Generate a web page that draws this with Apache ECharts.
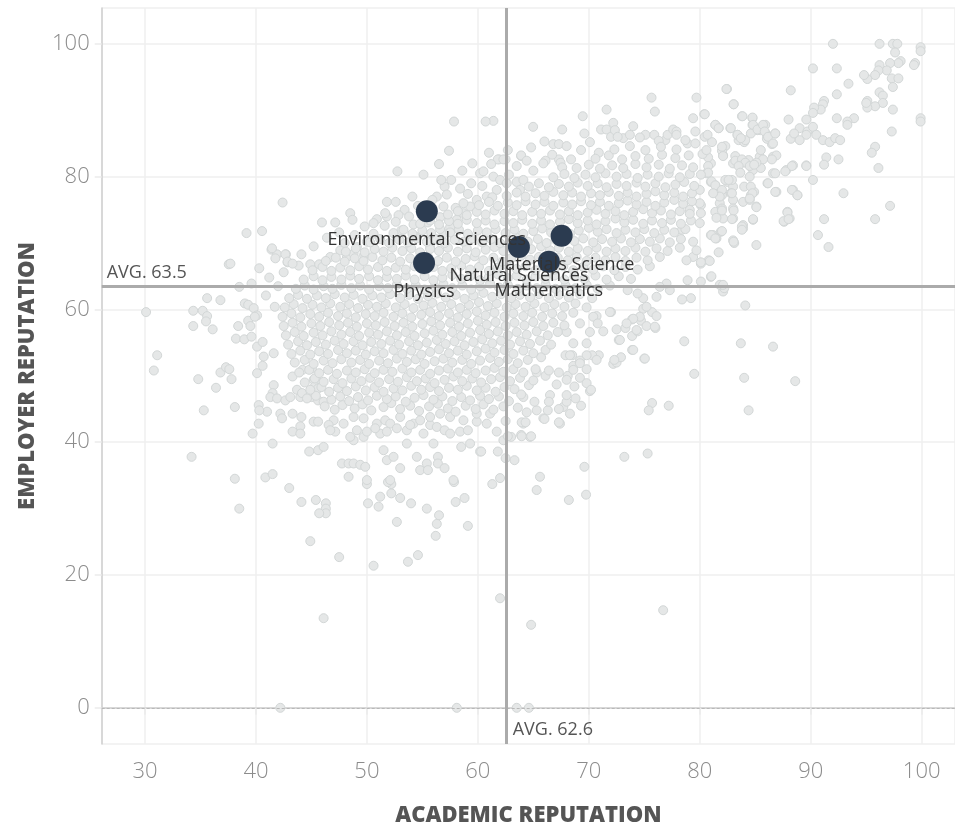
<!DOCTYPE html>
<html><head><meta charset="utf-8">
<script src="https://cdn.jsdelivr.net/npm/echarts@6/dist/echarts.min.js"></script>
<style>html,body{margin:0;padding:0;background:#fff}#c{width:955px;height:827px}</style>
</head><body><div id="c"></div>
<script>
// Highlighted subjects
const subjects = ['Environmental Sciences','Physics','Natural Sciences','Materials Science','Mathematics'];
const subjectAcademic = [55.4, 55.15, 63.7, 67.55, 66.4];
const subjectEmployer = [74.8, 67.0, 69.4, 71.1, 67.2];
const avgAcademic = 62.6;
const avgEmployer = 63.5;
const xAxisTitle = 'ACADEMIC REPUTATION';
const yAxisTitle = 'EMPLOYER REPUTATION';

// Background institutions/subjects: [academic, employer]
const zeroRow = [[42.2,0],[58.1,0],[63.5,0],[64.6,0]];

const fringeLeft = [[37.55,66.8],[38.5,63.4],[30.1,59.6],[34.35,59.8],[35.2,59.8],[35.6,59.0],[35.5,58.2],[34.35,57.5],[36.1,57.0],[35.6,61.7],[36.8,61.4],[31.1,53.1],[30.8,50.8],[34.8,49.5],[36.4,48.2],[36.8,50.5],[37.3,51.3],[37.6,51.0],[37.8,49.5],[35.3,44.8],[38.1,45.3],[39.0,60.9],[39.3,60.7],[39.8,60.2],[40.1,59.1],[39.3,58.3],[39.9,58.9],[38.4,57.5],[39.5,57.5],[38.2,55.6],[38.95,55.5],[39.6,55.9],[40.1,54.4],[40.6,55.1],[40.7,52.9],[41.6,53.4],[40.1,50.4],[40.6,51.5],[41.6,48.6],[41.5,47.4],[41.3,46.8],[41.9,46.6],[42.65,46.3],[43.1,46.8],[44.0,46.8],[43.7,47.9],[44.15,47.4],[40.25,45.6],[41.0,44.6],[40.3,44.8],[40.25,42.8],[39.7,41.3],[42.2,44.3],[42.35,43.6],[43.3,44.3],[44.1,43.8],[44.0,42.4],[43.3,41.6],[44.0,41.3],[41.5,39.8],[44.8,38.6],[45.6,38.8],[46.1,39.3],[45.2,43.1],[45.6,43.1],[45.0,46.8],[45.6,46.3],[46.1,46.1],[45.2,49.4],[45.6,49.1],[45.3,48.4],[45.6,48.1],[44.2,50.9],[45.05,51.1],[43.3,49.9],[39.15,71.5],[40.55,71.8],[37.7,66.9],[41.4,69.0],[41.9,68.3],[42.7,68.3],[41.75,67.7],[42.85,67.1],[43.85,66.6],[44.9,66.8],[45.7,66.8],[42.4,76.1],[40.9,62.1],[41.7,60.4],[42.0,63.5],[41.2,64.8],[39.6,63.9],[40.3,66.2],[42.5,65.6]];

const fringeLower = [[38.5,30.0],[43.0,33.1],[44.1,31.0],[45.4,31.3],[46.3,30.8],[46.3,30.0],[46.3,29.3],[45.7,29.3],[44.9,25.1],[47.5,22.7],[46.1,13.5],[50.1,30.8],[50.0,33.7],[51.2,31.8],[51.05,30.3],[52.2,32.3],[52.2,33.7],[51.9,34.0],[53.0,31.6],[53.98,30.8],[52.7,28.0],[55.4,30.0],[56.5,29.0],[56.3,27.7],[56.2,25.9],[54.6,23.0],[53.7,22.0],[50.6,21.4],[57.85,34.0],[58.0,31.0],[58.8,31.6],[59.1,27.4],[61.3,33.7],[62.0,16.5],
[38.1,34.5],[40.85,34.7],[41.5,35.2],[34.2,37.8],[47.75,36.8],[48.35,36.8],[48.8,36.8],[49.4,36.6],[49.85,36.3],[50.0,34.3],[48.35,34.8],[51.5,38.8],[51.8,37.3],[52.4,37.8],[53.0,36.1],[52.1,34.3],[54.5,37.8],[54.8,35.8],[55.4,36.8],[55.5,35.8],[56.4,37.8],[56.4,36.8],[57.0,36.1],[57.8,34.3],[58.5,39.3],[59.3,39.8],[60.2,38.6],[62.0,34.6],[61.8,38.6],[62.5,37.6],[63.3,37.3],[48.8,40.3],[49.7,40.8],[65.3,32.8],[65.6,34.8],[53.6,39.8],[56.0,39.8],[64.8,12.5],[76.7,14.7],[68.2,31.3],[69.75,32.1],[69.6,36.3],[73.2,37.8],[75.3,38.3]];

const band40 = [[47.0,43.3],[47.9,42.8],[48.8,43.8],[49.1,41.8],[50.0,41.6],[48.5,40.8],[47.15,41.6],[49.7,43.6],[50.9,42.8],[51.65,43.3],[52.1,42.8],[52.7,42.1],[53.6,41.8],[54.2,42.8],[54.8,43.3],[55.7,42.6],[56.3,42.3],[57.0,41.8],[57.5,41.3],[58.4,41.6],[59.1,41.8],[59.9,43.1],[60.8,42.8],[61.1,44.3],[59.9,44.3],[58.7,43.3],[57.5,43.8],[56.6,44.3],[55.7,43.8],[53.0,43.8],[51.2,41.3],[55.1,41.3],[61.7,41.6],[62.3,40.3],[63.0,40.8],[63.9,41.1],[64.7,40.8],[64.1,42.8],[65.9,43.6],[67.4,42.8],[66.3,44.8],[65.3,44.8],[67.7,45.3],[68.3,44.3],[46.55,42.6],[46.7,41.8],[50.75,42.1],[51.8,41.6],[53.9,42.6],[60.3,38.6]];

const fringeRight = [[84.1,60.6],[83.7,54.9],[86.6,54.4],[84.0,49.7],[84.4,44.8],[88.6,49.2],[79.5,50.3],[78.6,55.2],[75.7,45.9],[75.4,44.8],[77.2,45.5],[62.7,40.9],[63.95,40.9],[64.8,40.9],[62.5,43.2],[63.95,43.0],[64.3,43.0],[66.0,43.5],[67.3,43.0],[67.3,45.0],[69.3,45.5],[68.8,46.6],[68.0,46.1],[68.0,47.1],[66.5,47.1],[66.4,46.1],[65.1,46.1],[64.1,46.8],[70.1,47.7],[68.7,48.4],[67.1,48.7],[69.2,49.7],[68.1,50.0],[66.1,50.0],[65.3,50.5],[66.4,50.8],[67.3,50.5],[69.8,51.0],[68.6,51.5],[72.2,51.8],[72.5,52.0],[72.9,52.8],[75.0,52.6],[73.9,53.9],[70.9,53.1],[70.3,53.1],[69.8,53.1],[69.2,52.3],[68.5,53.1],[67.9,53.1],[72.7,55.4],[72.5,57.0],[73.3,57.2],[73.9,56.0],[73.9,58.5],[74.7,58.3],[74.9,60.1],[75.7,59.6],[76.1,59.0],[76.0,57.2],[75.2,57.5],[74.4,56.7],[71.3,56.7],[72.0,59.6],[70.7,59.0],
[81.0,79.2],[81.4,78.7],[82.0,77.2],[82.5,79.2],[83.0,78.5],[82.8,77.5],[83.0,76.5],[81.8,76.0],[81.4,74.7],[82.0,75.2],[83.0,75.2],[83.9,76.2],[84.6,77.2],[84.9,77.7],[84.5,76.5],[85.1,75.5],[84.8,73.5],[83.9,72.7],[83.9,72.2],[83.0,73.7],[82.1,73.7],[81.9,71.7],[81.2,71.2],[81.5,70.7],[83.0,70.4],[85.1,69.7],[86.1,79.0],[86.9,77.7],[86.6,80.5],[87.8,81.0],[88.4,81.7],[89.6,81.7],[88.4,78.0],[88.8,77.2],[87.9,74.7],[88.1,73.7],[87.6,73.2],[81.0,64.9],[80.1,64.2],[81.9,63.7],[82.1,62.7],[78.9,64.4],[79.2,61.7],[78.4,61.5],[80.1,66.9],[80.8,67.4],[79.4,67.9],[78.8,67.4],[79.7,68.9],[81.0,71.2],[79.4,70.2],[78.4,72.0],[79.1,75.0],[80.1,75.7],[80.0,78.0],[80.6,80.5],[81.0,82.0],[82.1,83.2],[83.0,82.0],[84.4,82.5],[84.8,81.0],[85.4,83.0],[86.6,83.0],[77.3,62.9],[77.0,63.9],[76.4,63.4],[76.1,61.9],[74.9,61.7],[74.4,62.4],[73.5,62.9],[75.2,60.4],[74.6,58.9],[74.0,58.6],[73.4,57.9],[74.3,56.9],[75.95,57.4],[72.8,55.4],[74.0,53.9],[75.05,52.6],[72.3,52.4],[70.7,52.4],[70.4,58.9],[71.9,59.6],[70.8,57.9],[69.2,57.9],[70.1,56.6],[69.8,54.9],[68.6,54.9],[68.0,56.6],[68.3,53.1],[69.2,51.9],[68.6,50.9],[69.8,48.9],[68.0,49.4],[70.2,47.9],[83.1,70.0],[82.2,63.2]];

const upperRight = [[92.0,100],[96.2,100],[97.4,100],[97.8,100],[97.6,98.7],[99.9,99.5],[99.9,98.9],[99.4,97.1],[99.3,96.8],[98.1,97.4],[97.9,97.1],[97.15,97.1],[96.85,96.0],[96.2,96.8],[96.1,96.0],[95.8,95.3],[95.1,94.7],[94.8,95.3],[97.3,94.8],[97.9,94.8],[97.4,93.5],[93.4,94.0],[92.35,96.3],[90.2,96.3],[92.35,92.4],[96.2,92.7],[96.5,92.2],[96.5,91.1],[95.8,90.6],[95.1,90.4],[95.1,91.4],[95.0,91.1],[97.4,90.1],[97.3,86.8],[99.9,88.8],[99.9,88.3],[93.9,88.8],[93.3,88.3],[93.3,87.8],[92.35,88.8],[91.2,91.4],[91.1,90.9],[90.9,90.1],[90.3,90.4],[90.2,89.6],[89.6,88.6],[89.0,87.3],[89.7,86.8],[89.6,86.3],[90.2,87.5],[90.5,86.3],[91.1,85.5],[91.7,85.2],[92.2,85.8],[92.65,85.5],[88.2,93.0],[88.0,88.6],[88.2,85.7],[88.5,86.5],[89.0,85.5],[95.8,84.5],[95.5,83.6],[96.1,81.3],[91.4,82.9],[91.2,81.8],[92.5,82.6],[89.6,81.6],[88.3,81.6],[87.7,80.8],[90.2,79.5],[92.95,77.5],[97.15,75.6],[95.8,73.6],[91.2,73.6],[90.65,71.2],[91.6,69.4],[88.3,78.0],[88.8,77.2],[87.9,74.6],[87.55,73.3],[88.0,73.6],[86.8,77.7],[86.8,80.5],[86.15,79.0],[85.1,75.4],[84.8,73.6],[86.9,83.2],[86.5,82.6],[85.5,84.0],[85.7,82.6],[85.5,81.3],[85.1,82.1],[84.5,80.0],[86.8,86.5],[86.5,84.9],[86.05,85.7],[86.05,86.3],[85.9,87.8],[85.5,87.0],[85.2,87.0],[84.75,87.8],[84.75,88.8],[84.6,86.5],[83.8,89.1],[82.75,87.3],[83.05,90.9],[82.45,93.2],[80.4,89.4],[81.4,87.8],[81.7,87.3],[80.45,86.0],[81.1,85.2],[82.3,84.6],[82.0,83.9],[83.5,85.5],[84.0,85.2],[83.4,86.3],[82.1,83.1],[80.75,82.9],[80.25,83.4],[83.2,83.1],[83.2,82.4],[83.8,82.6],[84.1,82.1],[83.5,81.6],[84.5,81.6],[84.9,81.8],[83.65,80.6],[82.9,79.5],[82.3,79.5],[82.6,79.5],[81.05,79.3],[81.4,78.7],[82.0,78.0],[82.9,77.5],[81.8,77.0],[81.2,77.5],[84.0,78.5],[84.6,78.5],[84.75,77.5],[84.5,76.7],[80.75,81.6],[80.75,80.6],[80.1,80.3],[82.0,74.9],[83.05,74.9],[82.9,73.6],[83.8,72.5],[83.8,72.0],[81.5,73.8],[82.0,71.8],[81.05,71.2],[81.4,70.7],[83.05,70.2],[81.7,68.6],[80.9,67.3],[80.1,67.1],[81.05,65.0],[81.8,63.7],[82.1,63.7],[80.0,76.0],[80.1,74.5],[80.0,73.0]];

const upperMid = [[75.65,91.9],[75.95,89.8],[79.7,91.9],[82.4,93.2],[83.05,90.9],[79.4,88.8],[80.45,89.4],[71.6,90.1],[72.2,88.1],[69.45,89.1],[64.98,87.5],[67.6,87.1],[61.4,88.4],[63.9,83.1],[61.9,82.6],[62.5,82.6],[66.8,84.9],[67.3,84.9],[66.1,82.4],[67.3,82.6],[67.45,82.1],[71.1,87.1],[71.6,87.1],[72.0,86.0],[72.35,87.0],[73.1,85.8],[73.7,86.3],[74.0,87.6],[75.1,86.3],[75.9,86.3],[76.9,85.5],[77.1,86.3],[77.6,87.1],[77.9,86.8],[78.9,85.0],[78.7,85.5],[79.6,86.8],[80.7,86.3],[81.4,87.8],[81.7,87.3],[82.8,87.3],[83.4,86.3],[83.85,89.1],[84.75,88.9],[84.1,85.5],[83.7,85.8],[84.8,87.8],[85.2,87.1],[85.7,87.8],[85.85,86.8],[86.15,86.0],[86.6,85.0],[86.8,86.5],
[57.85,88.3],[60.7,88.3],[57.4,83.9],[56.5,81.9],[55.1,80.3],[52.75,80.8],[54.1,77.0],[51.8,76.2],[52.6,76.2],[53.4,75.0],[52.85,74.2],[51.8,74.0],[51.65,74.5],[50.9,73.6],[50.6,73.0],[48.5,74.5],[48.7,73.5],[47.15,73.1],[45.95,73.1],[41.45,69.2],[42.65,68.3],[42.85,67.2],[46.7,67.9],[47.6,68.9],[48.2,67.9],[48.8,68.4],[49.1,69.4],[49.75,68.2],[53.9,69.4],[54.5,70.9],[55.7,69.4],[56.4,70.4],[56.9,71.4],[57.5,72.4],[58.1,73.5],[58.7,74.5],[59.3,75.5],[56.9,75.5],[56.3,77.0],[57.0,78.5],[56.7,79.5],[57.6,79.5],[60.2,80.5],[61.4,80.0],[62.0,79.5],[62.6,79.0],[63.5,79.2],[64.1,79.5],[63.8,78.0],[61.7,78.0],[60.8,77.0],[59.9,76.5],[58.7,76.0],[61.8,82.6],[62.3,82.6],[63.9,83.2],
[60.5,80.8],[61.2,81.9],[62.8,80.3],[63.5,81.6],[64.4,82.4],[65.0,80.9],[65.9,82.0],[66.7,83.3],[67.6,81.4],[68.4,82.6],[69.3,84.0],[70.1,85.2],[68.0,84.6],[66.0,85.3],[64.8,84.4],[62.7,84.0],[61.0,83.6],[59.5,82.0],[58.6,80.9],[69.6,86.5],[70.9,83.6],[72.6,86.0],[74.6,85.9],[76.3,85.4],[77.9,86.3],[79.6,85.0],[80.6,84.0],[82.0,84.5],
[43.3,66.9],[44.1,68.3],[45.2,69.5],[46.4,70.8],[47.5,71.6],[48.9,71.2],[49.8,72.5],[50.6,71.4],[51.6,72.6],[52.6,73.2],[53.8,74.0],[54.6,75.6],[55.9,76.5],[57.2,77.3],[58.4,78.2],[59.4,79.0],[59.1,77.4],[60.4,78.6],[61.3,76.9],[53.1,71.9],[54.2,72.8],[55.5,73.1],[56.6,73.9],[58.0,75.3],[50.0,70.2],[48.0,70.0]];

const coreLow = [
[46.2,45.4],[47.1,44.9],[47.8,45.6],[48.9,45.1],[49.6,45.7],[50.4,44.8],[51.5,45.3],[52.2,45.9],[53.0,45.0],[53.9,45.5],[54.7,44.7],[55.6,45.4],[56.4,45.8],[57.3,45.1],[58.0,44.6],[58.9,45.5],[59.8,45.0],[60.5,45.7],[61.4,44.9],[62.3,45.4],[63.6,45.2],[64.4,44.5],
[44.6,46.6],[45.4,47.0],[46.8,46.4],[47.6,46.9],[48.4,46.2],[49.2,46.8],[50.1,46.3],[50.9,47.0],[51.8,46.5],[52.6,46.9],[53.5,46.1],[54.3,46.7],[55.1,47.1],[56.0,46.4],[56.8,46.9],[57.7,46.2],[58.5,46.8],[59.3,46.3],[60.2,47.0],[61.0,46.5],[61.9,46.9],[62.8,46.2],[63.9,47.2],
[44.9,47.9],[45.9,48.3],[46.6,47.6],[47.4,48.2],[48.2,47.7],[49.0,48.4],[49.9,47.8],[50.7,48.3],[51.5,47.6],[52.4,48.1],[53.2,47.8],[54.0,48.5],[54.9,47.9],[55.7,48.3],[56.5,47.7],[57.4,48.2],[58.2,47.9],[59.0,48.5],[59.9,47.8],[60.7,48.2],[61.6,47.6],[62.4,48.3],[63.3,48.0],[64.6,48.6],
[44.4,49.0],[45.3,49.6],[46.1,49.1],[47.0,49.5],[47.8,48.9],[48.6,49.6],[49.5,49.2],[50.3,49.7],[51.1,49.0],[52.0,49.5],[52.8,49.1],[53.6,49.8],[54.5,49.2],[55.3,49.6],[56.1,48.9],[57.0,49.4],[57.8,49.9],[58.6,49.2],[59.5,49.6],[60.3,49.0],[61.2,49.5],[62.0,49.8],[62.9,49.2],[63.8,49.7],[65.0,49.3],
[43.9,50.5],[44.8,50.9],[45.7,50.4],[46.5,50.9],[47.3,50.3],[48.2,50.8],[49.0,50.5],[49.8,51.0],[50.7,50.4],[51.5,50.9],[52.3,50.6],[53.2,51.1],[54.0,50.5],[54.8,50.9],[55.7,50.3],[56.5,50.8],[57.3,51.1],[58.2,50.5],[59.0,50.9],[59.8,50.4],[60.7,50.8],[61.5,51.2],[62.3,50.6],[63.2,51.0],[64.1,50.5],[65.2,51.0],
[43.5,52.0],[44.4,52.4],[45.2,51.8],[46.1,52.3],[46.9,51.9],[47.7,52.5],[48.6,52.0],[49.4,52.4],[50.2,51.8],[51.1,52.3],[51.9,51.9],[52.7,52.6],[53.6,52.1],[54.4,52.5],[55.2,51.8],[56.1,52.2],[56.9,52.6],[57.7,52.0],[58.6,52.4],[59.4,51.8],[60.2,52.3],[61.1,52.7],[61.9,52.1],[62.7,52.5],[63.6,51.9],[64.5,52.4],[65.7,52.8],
[43.2,53.3],[44.0,53.8],[44.9,53.2],[45.7,53.7],[46.5,53.3],[47.4,53.9],[48.2,53.4],[49.0,53.8],[49.9,53.2],[50.7,53.7],[51.5,53.4],[52.4,53.9],[53.2,53.3],[54.0,53.8],[54.9,53.2],[55.7,53.6],[56.5,54.0],[57.4,53.4],[58.2,53.8],[59.0,53.2],[59.9,53.7],[60.7,54.1],[61.5,53.5],[62.4,53.9],[63.2,53.3],[64.1,53.8],[65.0,53.4],[66.1,53.9]];

const coreMid = [
[42.9,54.7],[43.8,55.2],[44.6,54.6],[45.4,55.1],[46.3,54.7],[47.1,55.3],[47.9,54.8],[48.8,55.2],[49.6,54.6],[50.4,55.1],[51.3,54.8],[52.1,55.3],[52.9,54.7],[53.8,55.2],[54.6,54.6],[55.4,55.0],[56.3,55.4],[57.1,54.8],[57.9,55.2],[58.8,54.6],[59.6,55.1],[60.4,55.5],[61.3,54.9],[62.1,55.3],[62.9,54.7],[63.8,55.2],[64.7,54.8],[65.6,55.3],[66.6,54.7],
[42.7,56.1],[43.5,56.6],[44.3,56.0],[45.2,56.5],[46.0,56.1],[46.8,56.7],[47.7,56.2],[48.5,56.6],[49.3,56.0],[50.2,56.5],[51.0,56.2],[51.8,56.7],[52.7,56.1],[53.5,56.6],[54.3,56.0],[55.2,56.4],[56.0,56.8],[56.8,56.2],[57.7,56.6],[58.5,56.0],[59.3,56.5],[60.2,56.9],[61.0,56.3],[61.8,56.7],[62.7,56.1],[63.5,56.6],[64.4,56.2],[65.3,56.7],[66.3,56.1],[67.2,56.6],
[42.5,57.5],[43.3,58.0],[44.1,57.4],[45.0,57.9],[45.8,57.5],[46.6,58.1],[47.5,57.6],[48.3,58.0],[49.1,57.4],[50.0,57.9],[50.8,57.6],[51.6,58.1],[52.5,57.5],[53.3,58.0],[54.1,57.4],[55.0,57.8],[55.8,58.2],[56.6,57.6],[57.5,58.0],[58.3,57.4],[59.1,57.9],[60.0,58.3],[60.8,57.7],[61.6,58.1],[62.5,57.5],[63.3,58.0],[64.2,57.6],[65.0,58.1],[65.9,57.5],[66.8,58.0],[67.8,57.6],
[42.4,58.9],[43.2,59.4],[44.0,58.8],[44.9,59.3],[45.7,58.9],[46.5,59.5],[47.4,59.0],[48.2,59.4],[49.0,58.8],[49.9,59.3],[50.7,59.0],[51.5,59.5],[52.4,58.9],[53.2,59.4],[54.0,58.8],[54.9,59.2],[55.7,59.6],[56.5,59.0],[57.4,59.4],[58.2,58.8],[59.0,59.3],[59.9,59.7],[60.7,59.1],[61.5,59.5],[62.4,58.9],[63.2,59.4],[64.1,59.0],[64.9,59.5],[65.8,58.9],[66.7,59.4],[67.6,59.0],[68.6,59.5],
[42.6,60.3],[43.4,60.8],[44.2,60.2],[45.1,60.7],[45.9,60.3],[46.7,60.9],[47.6,60.4],[48.4,60.8],[49.2,60.2],[50.1,60.7],[50.9,60.4],[51.7,60.9],[52.6,60.3],[53.4,60.8],[54.2,60.2],[55.1,60.6],[55.9,61.0],[56.7,60.4],[57.6,60.8],[58.4,60.2],[59.2,60.7],[60.1,61.1],[60.9,60.5],[61.7,60.9],[62.6,60.3],[63.4,60.8],[64.3,60.4],[65.1,60.9],[66.0,60.3],[66.9,60.8],[67.8,60.4],[68.8,60.9],[69.8,60.3],
[43.0,61.7],[43.8,62.2],[44.6,61.6],[45.5,62.1],[46.3,61.7],[47.1,62.3],[48.0,61.8],[48.8,62.2],[49.6,61.6],[50.5,62.1],[51.3,61.8],[52.1,62.3],[53.0,61.7],[53.8,62.2],[54.6,61.6],[55.5,62.0],[56.3,62.4],[57.1,61.8],[58.0,62.2],[58.8,61.6],[59.6,62.1],[60.5,62.5],[61.3,61.9],[62.1,62.3],[63.0,61.7],[63.8,62.2],[64.7,61.8],[65.5,62.3],[66.4,61.7],[67.3,62.2],[68.2,61.8],[69.2,62.3],[70.3,61.7],
[43.6,63.1],[44.4,63.6],[45.2,63.0],[46.1,63.5],[46.9,63.1],[47.7,63.7],[48.6,63.2],[49.4,63.6],[50.2,63.0],[51.1,63.5],[51.9,63.2],[52.7,63.7],[53.6,63.1],[54.4,63.6],[55.2,63.0],[56.1,63.4],[56.9,63.8],[57.7,63.2],[58.6,63.6],[59.4,63.0],[60.2,63.5],[61.1,63.9],[61.9,63.3],[62.7,63.7],[63.6,63.1],[64.4,63.6],[65.3,63.2],[66.1,63.7],[67.0,63.1],[67.9,63.6],[68.8,63.2],[69.8,63.7],[70.8,63.1],[71.9,63.6]];

const coreHigh = [
[44.3,64.5],[45.2,65.0],[46.0,64.4],[46.8,64.9],[47.7,64.5],[48.5,65.1],[49.3,64.6],[50.2,65.0],[51.0,64.4],[51.8,64.9],[52.7,64.6],[53.5,65.1],[54.3,64.5],[55.2,65.0],[56.0,64.4],[56.8,64.8],[57.7,65.2],[58.5,64.6],[59.3,65.0],[60.2,64.4],[61.0,64.9],[61.8,65.3],[62.7,64.7],[63.5,65.1],[64.4,64.5],[65.2,65.0],[66.1,64.6],[66.9,65.1],[67.8,64.5],[68.7,65.0],[69.6,64.6],[70.6,65.1],[71.6,64.5],[72.7,65.0],[73.8,64.6],
[45.1,65.9],[46.0,66.4],[46.8,65.8],[47.6,66.3],[48.5,65.9],[49.3,66.5],[50.1,66.0],[51.0,66.4],[51.8,65.8],[52.6,66.3],[53.5,66.0],[54.3,66.5],[55.1,65.9],[56.0,66.4],[56.8,65.8],[57.6,66.2],[58.5,66.6],[59.3,66.0],[60.1,66.4],[61.0,65.8],[61.8,66.3],[62.6,66.7],[63.5,66.1],[64.3,66.5],[65.2,65.9],[66.0,66.4],[66.9,66.0],[67.7,66.5],[68.6,65.9],[69.5,66.4],[70.4,66.0],[71.3,66.5],[72.3,65.9],[73.3,66.4],[74.4,66.0],[75.5,66.5],
[46.3,67.3],[47.2,67.8],[48.0,67.2],[48.9,67.7],[49.7,67.3],[50.5,67.9],[51.4,67.4],[52.2,67.8],[53.0,67.2],[53.9,67.7],[54.7,67.4],[55.5,67.9],[56.4,67.3],[57.2,67.8],[58.0,67.2],[58.9,67.6],[59.7,68.0],[60.5,67.4],[61.4,67.8],[62.2,67.2],[63.0,67.7],[63.9,68.1],[64.7,67.5],[65.5,67.9],[66.4,67.3],[67.2,67.8],[68.1,67.4],[68.9,67.9],[69.8,67.3],[70.6,67.8],[71.5,67.4],[72.4,67.9],[73.3,67.3],[74.3,67.8],[75.3,67.4],[76.4,67.9],
[48.1,68.7],[49.0,69.2],[49.8,68.6],[50.7,69.1],[51.5,68.7],[52.3,69.3],[53.2,68.8],[54.0,69.2],[54.8,68.6],[55.7,69.1],[56.5,68.8],[57.3,69.3],[58.2,68.7],[59.0,69.2],[59.8,68.6],[60.7,69.0],[61.5,69.4],[62.3,68.8],[63.2,69.2],[64.0,68.6],[64.8,69.1],[65.7,69.5],[66.5,68.9],[67.3,69.3],[68.2,68.7],[69.0,69.2],[69.9,68.8],[70.7,69.3],[71.6,68.7],[72.4,69.2],[73.3,68.8],[74.2,69.3],[75.1,68.7],[76.1,69.2],[77.1,68.8],[78.2,69.3],
[50.3,70.1],[51.2,70.6],[52.0,70.0],[52.9,70.5],[53.7,70.1],[54.5,70.7],[55.4,70.2],[56.2,70.6],[57.0,70.0],[57.9,70.5],[58.7,70.2],[59.5,70.7],[60.4,70.1],[61.2,70.6],[62.0,70.0],[62.9,70.4],[63.7,70.8],[64.5,70.2],[65.4,70.6],[66.2,70.0],[67.0,70.5],[67.9,70.9],[68.7,70.3],[69.5,70.7],[70.4,70.1],[71.2,70.6],[72.1,70.2],[72.9,70.7],[73.8,70.1],[74.6,70.6],[75.5,70.2],[76.4,70.7],[77.3,70.1],[78.3,70.6],
[52.4,71.5],[53.3,72.0],[54.1,71.4],[55.0,71.9],[55.8,71.5],[56.6,72.1],[57.5,71.6],[58.3,72.0],[59.1,71.4],[60.0,71.9],[60.8,71.6],[61.6,72.1],[62.5,71.5],[63.3,72.0],[64.1,71.4],[65.0,71.8],[65.8,72.2],[66.6,71.6],[67.5,72.0],[68.3,71.4],[69.1,71.9],[70.0,72.3],[70.8,71.7],[71.6,72.1],[72.5,71.5],[73.3,72.0],[74.2,71.6],[75.0,72.1],[75.9,71.5],[76.8,72.0],[77.7,71.6],[78.7,72.1],
[54.8,72.9],[55.7,73.4],[56.5,72.8],[57.4,73.3],[58.2,72.9],[59.0,73.5],[59.9,73.0],[60.7,73.4],[61.5,72.8],[62.4,73.3],[63.2,73.0],[64.0,73.5],[64.9,72.9],[65.7,73.4],[66.5,72.8],[67.4,73.2],[68.2,73.6],[69.0,73.0],[69.9,73.4],[70.7,72.8],[71.5,73.3],[72.4,73.7],[73.2,73.1],[74.0,73.5],[74.9,72.9],[75.7,73.4],[76.6,73.0],[77.4,73.5],[78.3,72.9],[79.2,73.4],
[57.3,74.3],[58.2,74.8],[59.0,74.2],[59.9,74.7],[60.7,74.3],[61.5,74.9],[62.4,74.4],[63.2,74.8],[64.0,74.2],[64.9,74.7],[65.7,74.4],[66.5,74.9],[67.4,74.3],[68.2,74.8],[69.0,74.2],[69.9,74.6],[70.7,75.0],[71.5,74.4],[72.4,74.8],[73.2,74.2],[74.0,74.7],[74.9,75.1],[75.7,74.5],[76.5,74.9],[77.4,74.3],[78.2,74.8],[79.1,74.4],
[60.1,75.7],[61.0,76.2],[61.8,75.6],[62.7,76.1],[63.5,75.7],[64.3,76.3],[65.2,75.8],[66.0,76.2],[66.8,75.6],[67.7,76.1],[68.5,75.8],[69.3,76.3],[70.2,75.7],[71.0,76.2],[71.8,75.6],[72.7,76.0],[73.5,76.4],[74.3,75.8],[75.2,76.2],[76.0,75.6],[76.8,76.1],[77.7,76.5],[78.5,75.9],[79.3,76.3],
[62.6,77.1],[63.5,77.6],[64.3,77.0],[65.2,77.5],[66.0,77.1],[66.8,77.7],[67.7,77.2],[68.5,77.6],[69.3,77.0],[70.2,77.5],[71.0,77.2],[71.8,77.7],[72.7,77.1],[73.5,77.6],[74.3,77.0],[75.2,77.4],[76.0,77.8],[76.8,77.2],[77.7,77.6],[78.5,77.0],[79.3,77.5],
[64.6,78.5],[65.5,79.0],[66.4,78.4],[67.3,78.9],[68.2,78.5],[69.0,79.1],[69.9,78.6],[70.8,79.0],[71.6,78.4],[72.5,78.9],[73.4,78.6],[74.3,79.1],[75.1,78.5],[76.0,79.0],[76.9,78.4],[77.8,78.8],[78.6,79.2],[79.5,78.6],
[66.8,79.9],[67.8,80.4],[68.7,79.8],[69.7,80.3],[70.6,79.9],[71.5,80.5],[72.5,80.0],[73.4,80.4],[74.4,79.8],[75.3,80.3],[76.3,80.0],[77.2,80.5],[78.2,79.9],[79.1,80.4],
[68.9,81.3],[70.0,81.8],[71.0,81.2],[72.1,81.7],[73.1,81.3],[74.2,81.9],[75.2,81.4],[76.3,81.8],[77.3,81.2],[78.4,81.7],[79.4,81.4],
[70.6,82.7],[71.8,83.2],[73.0,82.6],[74.2,83.1],[75.4,82.7],[76.6,83.3],[77.8,82.8],[79.0,83.2],
[72.3,84.1],[73.7,84.6],[75.1,84.0],[76.5,84.5],[77.9,84.1]];

const background = [].concat(zeroRow, fringeLeft, fringeLower, band40, fringeRight, upperRight, upperMid, coreLow, coreMid, coreHigh);

const X_MIN = 26.1, X_MAX = 103.0, Y_MIN = -5.45, Y_MAX = 105.4;
const FONT = "'Open Sans', 'Noto Sans', sans-serif";

const chart = echarts.init(document.getElementById('c'), null, {renderer: 'canvas'});

const axisCommon = {
  type: 'value',
  axisLine: {show: true, lineStyle: {color: '#cfcfcf', width: 1.5}},
  axisTick: {show: true, length: 7, lineStyle: {color: '#ebebeb', width: 1.5}},
  splitLine: {show: true, lineStyle: {color: '#efefef', width: 1.5}},
  axisLabel: {color: '#8c8c8c', fontSize: 22, fontWeight: 300, fontFamily: FONT, showMinLabel: false, showMaxLabel: false},
  nameLocation: 'middle',
  nameTextStyle: {color: '#555', fontSize: 22, fontWeight: 800, fontFamily: FONT}
};

chart.setOption({
  animation: false,
  backgroundColor: '#fff',
  grid: {left: 101.7, right: 0, top: 8, bottom: 83, containLabel: false, outerBoundsMode: 'none'},
  xAxis: Object.assign({}, axisCommon, {
    min: X_MIN, max: X_MAX, splitNumber: 8,
    name: xAxisTitle, nameGap: 61,
    axisLabel: Object.assign({}, axisCommon.axisLabel, {margin: 17})
  }),
  yAxis: Object.assign({}, axisCommon, {
    min: Y_MIN, max: Y_MAX, splitNumber: 5,
    name: yAxisTitle, nameGap: 63,
    axisLabel: Object.assign({}, axisCommon.axisLabel, {margin: 12})
  }),
  series: [
    {
      type: 'scatter',
      data: background,
      symbolSize: 9,
      silent: true,
      z: 2,
      itemStyle: {color: '#e5e7e7', borderColor: '#d3d7d7', borderWidth: 1, opacity: 1}
    },
    {
      type: 'scatter',
      data: [],
      z: 3,
      silent: true,
      markLine: {
        silent: true,
        symbol: ['none','none'],
        animation: false,
        data: [
          {yAxis: 0, lineStyle: {type: [3,2], color: '#b8b8b8', width: 1}, label: {show: false}},
          {yAxis: avgEmployer, lineStyle: {type: 'solid', color: '#ababab', width: 3},
           label: {show: true, position: 'insideStartTop', formatter: 'AVG. ' + avgEmployer.toFixed(1), color: '#555', fontSize: 18, fontFamily: FONT, distance: [5, 4]}},
          {xAxis: avgAcademic, lineStyle: {type: 'solid', color: '#ababab', width: 3}, label: {show: false}}
        ]
      }
    },
    {
      type: 'scatter',
      z: 5,
      symbolSize: 22,
      itemStyle: {color: '#2b3b50', opacity: 1},
      data: subjects.map((n, i) => ({name: n, value: [subjectAcademic[i], subjectEmployer[i]]})),
      label: {show: true, position: 'bottom', distance: 9, formatter: '{b}', color: '#333', fontSize: 18, fontFamily: FONT}
    }
  ]
});

// label for the vertical average line, anchored to the data position
const p = chart.convertToPixel({gridIndex: 0}, [avgAcademic, Y_MIN]);
chart.setOption({
  graphic: [{
    type: 'text', z: 10,
    x: p[0] + 6, y: p[1] - 14,
    style: {text: 'AVG. ' + avgAcademic.toFixed(1), fill: '#555', fontSize: 18, fontFamily: FONT, verticalAlign: 'middle', align: 'left'}
  }]
});
</script>
</body></html>
